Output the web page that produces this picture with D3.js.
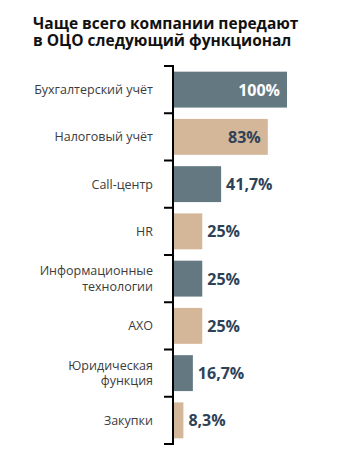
<!DOCTYPE html>
<html><head><meta charset="utf-8">
<script src="https://cdn.jsdelivr.net/npm/d3@7"></script>
<style>
html,body{margin:0;padding:0;background:#fff;}
svg{display:block;}
</style></head>
<body>
<svg id="chart" width="347" height="465"></svg>
<script>
const titleLines = ["Чаще всего компании передают", "в ОЦО следующий функционал"];
const categories = [
  ["Бухгалтерский учёт"],
  ["Налоговый учёт"],
  ["Call-центр"],
  ["HR"],
  ["Информационные", "технологии"],
  ["АХО"],
  ["Юридическая", "функция"],
  ["Закупки"]
];
const values = [100, 83, 41.7, 25, 25, 25, 16.7, 8.3];
const valueLabels = ["100%", "83%", "41,7%", "25%", "25%", "25%", "16,7%", "8,3%"];
const colors = ["#647882", "#d4b698"];

const svg = d3.select("#chart");
const axisX = 173, plotTop = 66, plotBottom = 444;

svg.append("text").attr("x", 33).attr("y", 29)
  .attr("font-family", "Open Sans, sans-serif").attr("font-weight", 700)
  .attr("font-size", 15.5).attr("fill", "#111")
  .selectAll("tspan").data(titleLines).join("tspan")
  .attr("x", 33).attr("dy", (d, i) => i ? 16.5 : 0).text(d => d);

const y = d3.scaleBand().domain(d3.range(categories.length)).range([plotTop, plotBottom]).paddingInner(0.24).paddingOuter(0.12);
const x = d3.scaleLinear().domain([0, 100]).range([axisX + 1, axisX + 114]);

svg.selectAll("rect.bar").data(values).join("rect").attr("class", "bar")
  .attr("x", x(0)).attr("y", (d, i) => y(i))
  .attr("width", d => x(d) - x(0)).attr("height", y.bandwidth())
  .attr("fill", (d, i) => colors[i % 2]);

// axis
svg.append("line").attr("x1", axisX).attr("x2", axisX).attr("y1", plotTop - 1).attr("y2", plotBottom + 1)
  .attr("stroke", "#000").attr("stroke-width", 2);
svg.selectAll("line.tick").data(d3.range(categories.length + 1)).join("line").attr("class", "tick")
  .attr("x1", axisX - 9).attr("x2", axisX)
  .attr("y1", i => plotTop + i * (plotBottom - plotTop) / categories.length)
  .attr("y2", i => plotTop + i * (plotBottom - plotTop) / categories.length)
  .attr("stroke", "#000").attr("stroke-width", 2);

// category labels
const lab = svg.selectAll("text.cat").data(categories).join("text").attr("class", "cat")
  .attr("text-anchor", "end")
  .attr("font-family", "Open Sans, sans-serif").attr("font-size", 12.5).attr("fill", "#3c3c3c");
lab.each(function(d, i) {
  const cy = y(i) + y.bandwidth() / 2;
  const n = d.length, lh = 15.5;
  d3.select(this).selectAll("tspan").data(d).join("tspan")
    .attr("x", 153).attr("y", (t, j) => cy + 4.5 + (j - (n - 1) / 2) * lh).text(t => t);
});

// value labels
svg.selectAll("text.val").data(values).join("text").attr("class", "val")
  .attr("font-family", "Open Sans, sans-serif").attr("font-weight", 700).attr("font-size", 16)
  .attr("y", (d, i) => y(i) + y.bandwidth() / 2 + 6)
  .attr("x", d => d >= 80 ? x(d) - 7 : x(d) + 5)
  .attr("text-anchor", d => d >= 80 ? "end" : "start")
  .attr("fill", (d, i) => i === 0 ? "#fff" : "#2e4257")
  .text((d, i) => valueLabels[i]);
</script>
</body></html>
